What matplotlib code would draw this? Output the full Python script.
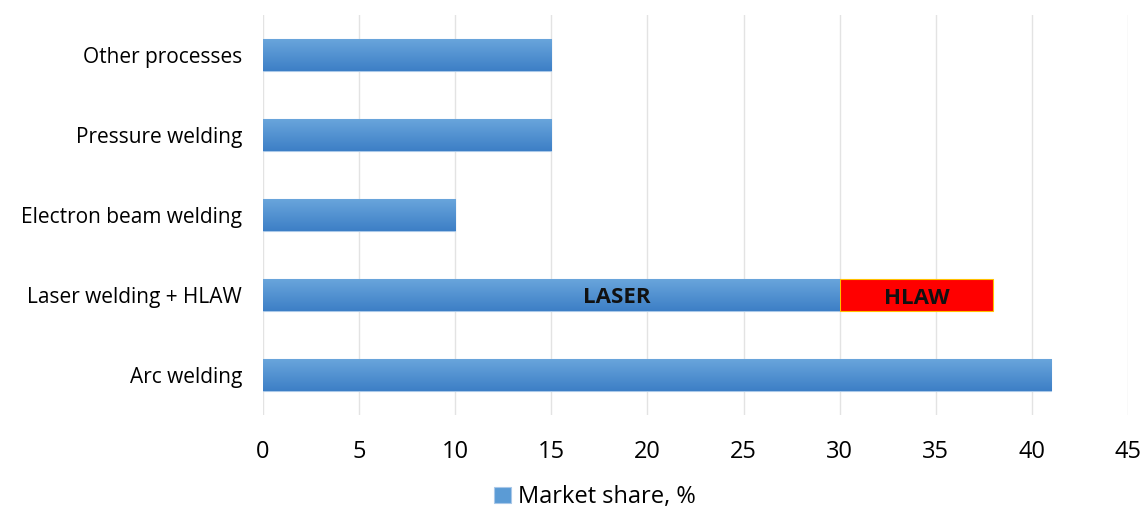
import numpy as np
import matplotlib.pyplot as plt
from matplotlib.colors import LinearSegmentedColormap

plt.rcParams['font.family'] = ['Open Sans', 'DejaVu Sans']

# data
processes = ["Arc welding", "Laser welding + HLAW", "Electron beam welding",
             "Pressure welding", "Other processes"]
share = [41, 30, 10, 15, 15]
hlaw = [0, 8, 0, 0, 0]
xticks = [0, 5, 10, 15, 20, 25, 30, 35, 40, 45]

fig = plt.figure(figsize=(11.48, 5.11), dpi=100)
ax = fig.add_axes([0.229, 0.188, 0.7536, 0.783])

y = np.arange(len(processes))
bars = ax.barh(y, share, height=0.4, color="#5b9bd5", edgecolor="#a9c8e8",
               linewidth=0.8, label="Market share, %", zorder=2)
red = ax.barh(y[1], hlaw[1], left=share[1], height=0.4, color="#ff0000",
              edgecolor="#ffc000", linewidth=0.8, zorder=2)

# gradient fill on blue bars
cmap = LinearSegmentedColormap.from_list("g", ["#3d7fc6", "#6aa6dc"])
grad = np.linspace(0, 1, 64).reshape(-1, 1)
for b in bars:
    x0, y0 = b.get_x(), b.get_y()
    im = ax.imshow(grad, cmap=cmap, aspect="auto", origin="lower",
                   extent=[x0, x0 + b.get_width(), y0, y0 + b.get_height()],
                   zorder=2.5)
    im.set_clip_path(b)

ax.text(18.4, y[1] - 0.03, "LASER", ha="center", va="center", fontsize=16,
        fontweight="bold", color="#111111", zorder=3)
ax.text(share[1] + hlaw[1] / 2, y[1] - 0.04, "HLAW", ha="center", va="center",
        fontsize=16, fontweight="bold", color="#111111", zorder=3)

ax.set_xlim(0, 45)
ax.set_ylim(-0.5, 4.5)
ax.set_xticks(xticks)
ax.set_yticks(y)
ax.set_yticklabels(processes, fontsize=15)
ax.tick_params(axis="x", labelsize=17, length=0, pad=18)
ax.tick_params(axis="y", length=0, pad=15)
ax.grid(axis="x", color="#e3e3e3", linewidth=1, zorder=0)
ax.set_axisbelow(True)
for s in ax.spines.values():
    s.set_visible(False)

leg = fig.legend(handles=[bars], labels=["Market share, %"], loc="center",
                 bbox_to_anchor=(0.518, 0.027), frameon=False, fontsize=17,
                 handlelength=0.7, handleheight=0.7, handletextpad=0.3)

fig.savefig("out.png", dpi=100)
